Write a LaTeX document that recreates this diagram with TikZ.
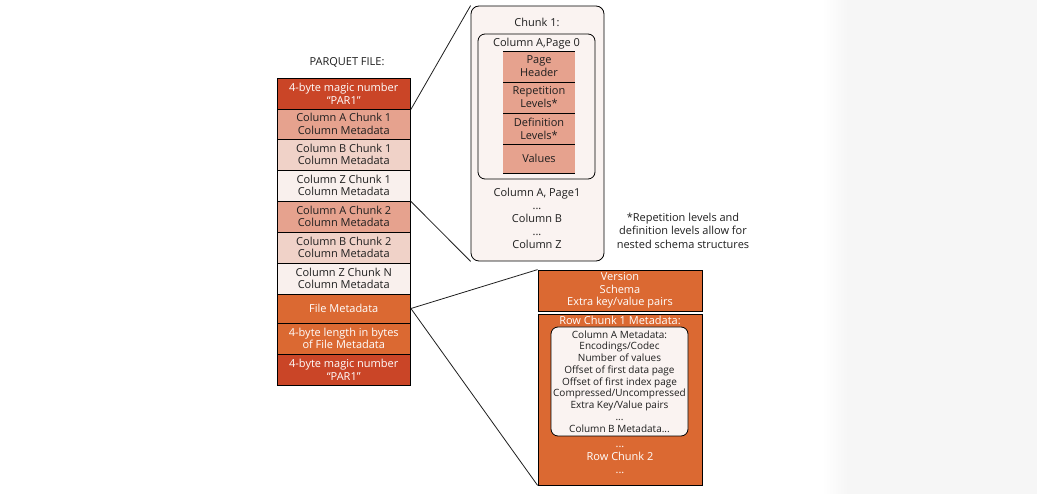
\documentclass[tikz,border=0pt]{standalone}
\usepackage{fontspec}
\setmainfont{Open Sans}
\definecolor{magic}{RGB}{202,69,39}
\definecolor{orng}{RGB}{219,105,50}
\definecolor{salA}{RGB}{230,162,142}
\definecolor{salB}{RGB}{240,210,200}
\definecolor{salZ}{RGB}{249,240,237}
\definecolor{chunkbg}{RGB}{250,243,241}
\definecolor{band}{RGB}{246,246,246}
\definecolor{ink}{RGB}{30,30,30}
\begin{document}
\begin{tikzpicture}[x=1pt,y=-1pt,
  cell/.style={draw=black,line width=0.8pt,inner sep=0pt,minimum width=133.5pt,align=center,text=ink,
    font=\fontsize{11}{12.7}\selectfont},
  dark/.style={text=white},
  txt/.style={inner sep=0pt,align=center,text=ink,font=\fontsize{11}{13}\selectfont},
  small/.style={inner sep=0pt,align=center,text=ink,font=\fontsize{10}{11.75}\selectfont},
  conn/.style={draw=ink,line width=0.8pt},
  rbox/.style={draw=black,line width=0.8pt,rounded corners=8pt,inner sep=0pt}]
\useasboundingbox (0,0) rectangle (1037,494);
% right grey band
\shade[left color=white,right color=band,draw=none] (822,0) rectangle (848,494);
\fill[band] (848,0) rectangle (1037,494);

% left column
\node[txt] (title) at (347,62) {PARQUET FILE:};
\node[cell,fill=magic,dark,minimum height=31pt] (m1) at (343.75,93.5) {4-byte magic number\\“PAR1”};
\node[cell,fill=salA,minimum height=30pt] (ac1) at (343.75,124) {Column A Chunk 1\\Column Metadata};
\node[cell,fill=salB,minimum height=31pt] (bc1) at (343.75,154.5) {Column B Chunk 1\\Column Metadata};
\node[cell,fill=salZ,minimum height=31pt] (zc1) at (343.75,185.5) {Column Z Chunk 1\\Column Metadata};
\node[cell,fill=salA,minimum height=31pt] (ac2) at (343.75,216.5) {Column A Chunk 2\\Column Metadata};
\node[cell,fill=salB,minimum height=31pt] (bc2) at (343.75,247.5) {Column B Chunk 2\\Column Metadata};
\node[cell,fill=salZ,minimum height=31pt] (zcn) at (343.75,278.5) {Column Z Chunk N\\Column Metadata};
\node[cell,fill=orng,dark,minimum height=29pt] (fm) at (343.75,308.5) {File Metadata};
\node[cell,fill=orng,dark,minimum height=31pt] (len) at (343.75,338.5) {4-byte length in bytes\\of File Metadata};
\node[cell,fill=magic,dark,minimum height=31pt] (m2) at (343.75,369.5) {4-byte magic number\\“PAR1”};

% chunk box
\node[rbox,fill=chunkbg,minimum width=133pt,minimum height=255pt] (chunk) at (537.5,133.5) {};
\node[txt] (chunkt) at (537,22) {Chunk 1:};
\node[rbox,rounded corners=7pt,fill=chunkbg,minimum width=117pt,minimum height=145pt] (colA) at (536.5,106.5) {};
\node[txt] (colAt) at (536.5,44) {Column A,Page 0};
\fill[salA] (503,51) rectangle (575,173);
\node[txt,minimum width=72pt,minimum height=31pt] (ph) at (539,66.5) {Page\\Header};
\node[txt,minimum width=72pt,minimum height=31pt] (rl) at (539,97.5) {Repetition\\Levels*};
\node[txt,minimum width=72pt,minimum height=31pt] (dl) at (539,128.5) {Definition\\Levels*};
\node[txt,minimum width=72pt,minimum height=29pt] (vals) at (539,158.5) {Values};
\foreach \yy in {51,82,113,144,173} \draw[black,line width=0.8pt] (503,\yy) -- (575,\yy);
\node[txt] (rest) at (537,218) {Column A, Page1\\...\\Column B\\...\\Column Z};

% footnote
\node[txt,font=\fontsize{11}{13.5}\selectfont] (note) at (683,230.5) {*Repetition levels and\\definition levels allow for\\nested schema structures};

% file metadata detail
\node[cell,fill=orng,dark,minimum width=164pt,minimum height=41pt] (ver) at (620,290.5) {Version\\Schema\\Extra key/value pairs};
\node[cell,fill=orng,minimum width=164pt,minimum height=171pt] (rc) at (620,399.5) {};
\node[txt,text=white] (rct) at (620,320.5) {Row Chunk 1 Metadata:};
\node[rbox,rounded corners=7pt,fill=chunkbg,minimum width=137pt,minimum height=109pt] (cam) at (619.5,381.5) {};
\node[small] (camt) at (619.5,381.5) {Column A Metadata:\\Encodings/Codec\\Number of values\\Offset of first data page\\Offset of first index page\\Compressed/Uncompressed\\Extra Key/Value pairs\\...\\Column B Metadata...};
\node[txt,text=white] (rc2) at (620,460) {...\\Row Chunk 2\\...};

% connectors
\draw[conn] (m1.south east) -- (chunk.north west);
\draw[conn] (zc1.south east) -- (chunk.south west);
\draw[conn] (fm.east) -- (ver.north west);
\draw[conn] (fm.east) -- (rc.south west);
\end{tikzpicture}
\end{document}
